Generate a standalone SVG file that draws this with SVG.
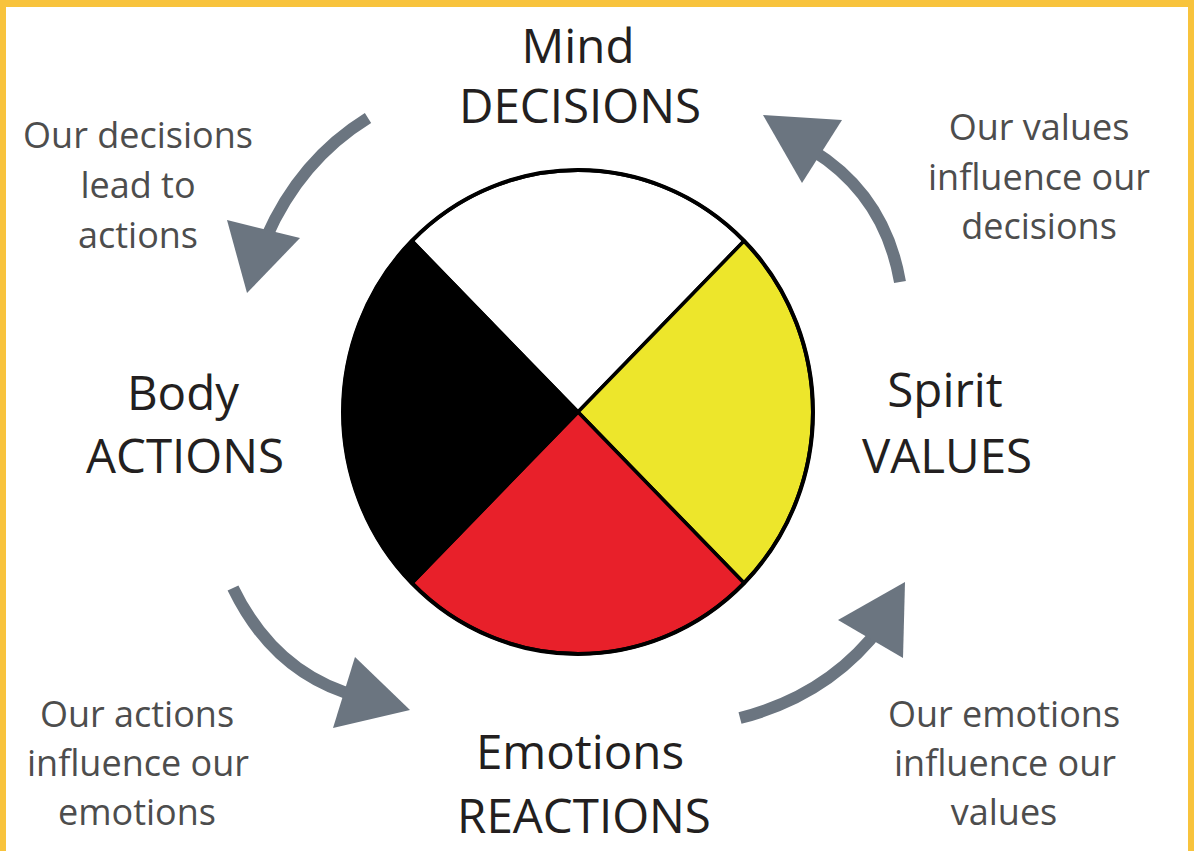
<svg xmlns="http://www.w3.org/2000/svg" width="1194" height="851" viewBox="0 0 1194 851">
<style>
.title{font-family:"Open Sans","Noto Sans",sans-serif;font-size:47.5px;fill:#231f20;text-anchor:middle}
.note{font-family:"Open Sans","Noto Sans",sans-serif;font-size:36px;fill:#4d4d4d;text-anchor:middle}
.shaft{fill:none;stroke:#6b7580;stroke-width:12}
.head{fill:#6b7580}
.q{stroke:#000;stroke-width:3.5;stroke-linejoin:round}
</style>
<rect x="0" y="0" width="1194" height="851" fill="#f8c33c"/>
<rect x="6" y="7" width="1182" height="844" fill="#ffffff"/>
<g id="wheel">
<path class="q" fill="#ffffff" d="M578,412 L412,241 A235,242 0 0 1 744,241 Z"/>
<path class="q" fill="#ede62b" d="M578,412 L744,241 A235,242 0 0 1 744,583 Z"/>
<path class="q" fill="#e8202a" d="M578,412 L744,583 A235,242 0 0 1 412,583 Z"/>
<path class="q" fill="#000000" d="M578,412 L412,583 A235,242 0 0 1 412,241 Z"/>
<ellipse cx="578" cy="412" rx="235" ry="242" fill="none" stroke="#000" stroke-width="4"/>
</g>
<g id="mind">
<text class="title" x="578" y="63">Mind</text>
<text class="title" x="580" y="123">DECISIONS</text>
</g>
<g id="body">
<text class="title" x="183" y="410">Body</text>
<text class="title" x="185" y="473">ACTIONS</text>
</g>
<g id="spirit">
<text class="title" x="945" y="407">Spirit</text>
<text class="title" x="947" y="473">VALUES</text>
</g>
<g id="emotions">
<text class="title" x="580" y="769">Emotions</text>
<text class="title" x="584" y="833">REACTIONS</text>
</g>
<g id="note-decisions">
<text class="note" x="138" y="148">Our decisions</text>
<text class="note" x="138" y="198">lead to</text>
<text class="note" x="138" y="248">actions</text>
</g>
<g id="note-values">
<text class="note" x="1039" y="140">Our values</text>
<text class="note" x="1039" y="190">influence our</text>
<text class="note" x="1039" y="239">decisions</text>
</g>
<g id="note-actions">
<text class="note" x="137" y="727">Our actions</text>
<text class="note" x="138" y="776">influence our</text>
<text class="note" x="137" y="825">emotions</text>
</g>
<g id="note-emotions">
<text class="note" x="1004" y="727">Our emotions</text>
<text class="note" x="1005" y="776">influence our</text>
<text class="note" x="1004" y="825">values</text>
</g>
<g id="connectors">
<path class="shaft" d="M368,118 Q300,160 266,238"/>
<polygon class="head" points="227,220 300,238 247,293"/>
<path class="shaft" d="M900,282 Q885,195 812,150"/>
<polygon class="head" points="763,115 842,120 802,183"/>
<path class="shaft" d="M233,588 Q275,675 360,697"/>
<polygon class="head" points="355,657 410,710 333,728"/>
<path class="shaft" d="M740,718 Q830,695 882,625"/>
<polygon class="head" points="905,582 838,620 903,658"/>
</g>
</svg>
